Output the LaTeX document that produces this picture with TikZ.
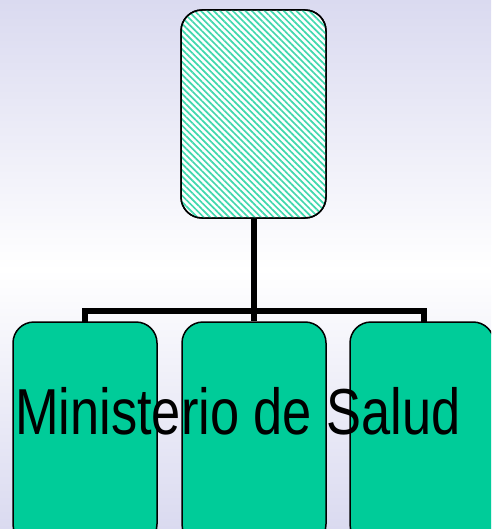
\documentclass[tikz,border=0pt]{standalone}
\usepackage{fontspec}
\setmainfont{Liberation Sans}
\usetikzlibrary{patterns.meta}
\definecolor{bglav}{HTML}{DADAF0}
\definecolor{boxgreen}{HTML}{00CC99}
\definecolor{hatchgreen}{HTML}{40D8AE}
\tikzset{
  orgbox/.style={draw=black, line width=1.5pt, rounded corners=21pt},
  conn/.style={draw=black, line width=5.5pt},
}
\begin{document}
\begin{tikzpicture}[x=1pt,y=-1pt]
\useasboundingbox (0,0) rectangle (491,529);
\shade[top color=bglav, bottom color=white] (0,0) rectangle (491,270);
\shade[top color=white, bottom color=bglav] (0,269.5) rectangle (491,529);
\begin{scope}
\clip (0,0) rectangle (491,529);
% top box
\path[orgbox, fill=white] (181,10) rectangle (326,218);
\fill[pattern={Lines[angle=-45,distance=4.5pt,line width=1.7pt]}, pattern color=hatchgreen, rounded corners=21pt] (181,10) rectangle (326,218);
\path[orgbox] (181,10) rectangle (326,218);
\coordinate (top) at (254,218);
\coordinate (j) at (254,311);
\coordinate (l) at (85,311);
\coordinate (r) at (424,311);
\node[inner sep=0] (b1) at (85,322) {};
\node[inner sep=0] (b2) at (254,322) {};
\node[inner sep=0] (b3) at (424,322) {};
\draw[conn] (top) -- (j);
\draw[conn, line cap=rect] (b1) -- (l) -- (r) -- (b3);
\draw[conn] (j) -- (b2);
% bottom boxes
\path[orgbox, fill=boxgreen] (13,322) rectangle (157,545);
\path[orgbox, fill=boxgreen] (182,322) rectangle (326,545);
\path[orgbox, fill=boxgreen] (350,322) rectangle (494,545);
\end{scope}
\node[anchor=base west, inner sep=0, xscale=0.806] (lbl) at (15,434)
  {\fontsize{65}{70}\selectfont Ministerio de Salud};
\end{tikzpicture}
\end{document}
